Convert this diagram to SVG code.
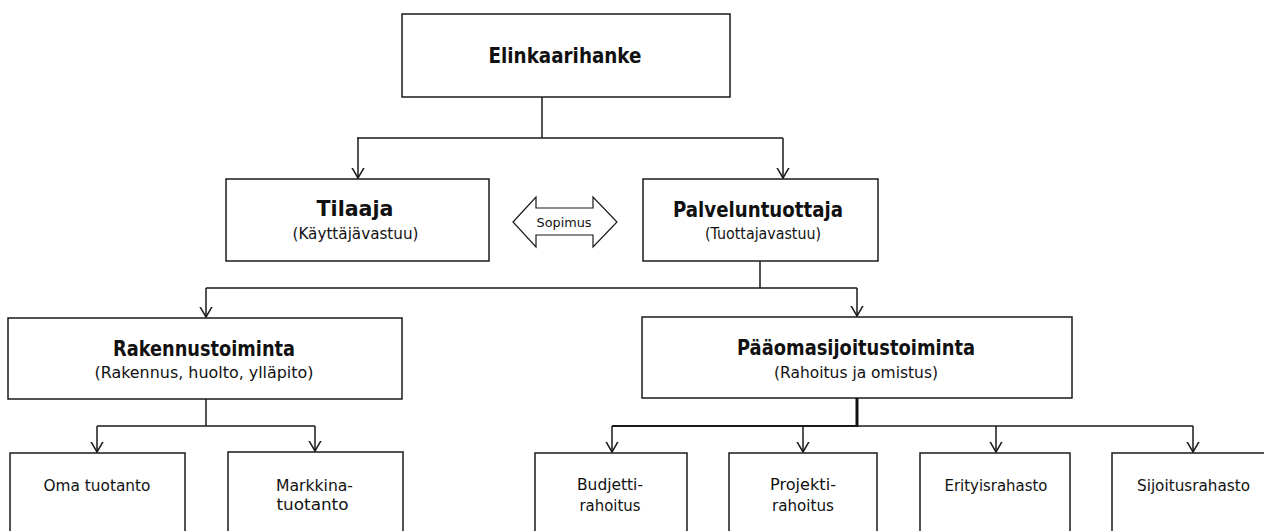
<svg xmlns="http://www.w3.org/2000/svg" width="1264" height="531" viewBox="0 0 1264 531">
  <style>
    .box { fill: #ffffff; stroke: #1a1a1a; stroke-width: 1.5; }
    .wire { fill: none; stroke: #1a1a1a; stroke-width: 1.5; }
    .thick { fill: none; stroke: #111111; stroke-width: 3; }
    .title { font-family: "DejaVu Sans", Verdana, sans-serif; font-weight: bold; font-size: 21px; fill: #111111; text-anchor: middle; }
    .sub { font-family: "DejaVu Sans", Verdana, sans-serif; font-size: 15.5px; fill: #111111; text-anchor: middle; }
    .leaf { font-family: "DejaVu Sans", Verdana, sans-serif; font-size: 15.5px; fill: #111111; text-anchor: middle; }
    .small { font-family: "DejaVu Sans", Verdana, sans-serif; font-size: 13px; fill: #111111; text-anchor: middle; }
  </style>
  <defs>
    <marker id="vee" markerUnits="userSpaceOnUse" markerWidth="20" markerHeight="20" viewBox="-10 -10 20 20" refX="0" refY="0" orient="auto">
      <path d="M-12,-7 L0,0 L-12,7" fill="none" stroke="#1a1a1a" stroke-width="1.5"/>
    </marker>
  </defs>

  <rect width="1264" height="531" fill="#ffffff"/>

  <!-- connectors -->
  <g id="connectors">
    <!-- top node to the two parties -->
    <path class="wire" d="M542,97 V138"/>
    <path class="wire" d="M357,138 H783"/>
    <path class="wire" d="M358,138 V178" marker-end="url(#vee)"/>
    <path class="wire" d="M783,138 V178" marker-end="url(#vee)"/>
    <!-- service provider to its two branches -->
    <path class="wire" d="M760,261 V288"/>
    <path class="wire" d="M206,288 H857"/>
    <path class="wire" d="M206,288 V317" marker-end="url(#vee)"/>
    <path class="wire" d="M857,288 V316" marker-end="url(#vee)"/>
    <!-- construction branch -->
    <path class="wire" d="M206,399 V426"/>
    <path class="wire" d="M97,426 H315"/>
    <path class="wire" d="M97,426 V452" marker-end="url(#vee)"/>
    <path class="wire" d="M315,426 V451" marker-end="url(#vee)"/>
    <!-- capital investment branch -->
    <path class="thick" d="M857,398 V427"/>
    <path class="wire" d="M612,426 H857" style="stroke-width:1.8"/>
    <path class="wire" d="M857,426 H1193"/>
    <path class="wire" d="M612,426 V452" marker-end="url(#vee)"/>
    <path class="wire" d="M803,426 V452" marker-end="url(#vee)"/>
    <path class="wire" d="M996,426 V452" marker-end="url(#vee)"/>
    <path class="wire" d="M1193,426 V452" marker-end="url(#vee)"/>
  </g>

  <g id="elinkaarihanke">
    <rect class="box" x="402" y="14" width="328" height="83"/>
    <text class="title" x="565" y="63" textLength="153" lengthAdjust="spacingAndGlyphs">Elinkaarihanke</text>
  </g>

  <g id="tilaaja">
    <rect class="box" x="226" y="179" width="263" height="82"/>
    <text class="title" x="355" y="216" textLength="77" lengthAdjust="spacingAndGlyphs">Tilaaja</text>
    <text class="sub" x="355.5" y="239" textLength="126" lengthAdjust="spacingAndGlyphs">(Käyttäjävastuu)</text>
  </g>

  <g id="sopimus">
    <polygon points="513,222 536,197 536,208 593,208 593,197 617,222 593,247 593,235 536,235 536,247" fill="#ffffff" stroke="#1a1a1a" stroke-width="1.2"/>
    <text class="small" x="564" y="227" textLength="55" lengthAdjust="spacingAndGlyphs">Sopimus</text>
  </g>

  <g id="palveluntuottaja">
    <rect class="box" x="643" y="179" width="235" height="82"/>
    <text class="title" x="758" y="217" textLength="170" lengthAdjust="spacingAndGlyphs">Palveluntuottaja</text>
    <text class="sub" x="763" y="239" textLength="116" lengthAdjust="spacingAndGlyphs">(Tuottajavastuu)</text>
  </g>

  <g id="rakennustoiminta">
    <rect class="box" x="8" y="318" width="394" height="81"/>
    <text class="title" x="204" y="356" textLength="182" lengthAdjust="spacingAndGlyphs">Rakennustoiminta</text>
    <text class="sub" x="204" y="378" textLength="219" lengthAdjust="spacingAndGlyphs">(Rakennus, huolto, ylläpito)</text>
  </g>

  <g id="paaomasijoitustoiminta">
    <rect class="box" x="642" y="317" width="430" height="81"/>
    <text class="title" x="856" y="355" textLength="238" lengthAdjust="spacingAndGlyphs">Pääomasijoitustoiminta</text>
    <text class="sub" x="856" y="378" textLength="164" lengthAdjust="spacingAndGlyphs">(Rahoitus ja omistus)</text>
  </g>

  <g id="oma-tuotanto">
    <rect class="box" x="10" y="453" width="175" height="100"/>
    <text class="leaf" x="97" y="491" textLength="107" lengthAdjust="spacingAndGlyphs">Oma tuotanto</text>
  </g>

  <g id="markkinatuotanto">
    <rect class="box" x="228" y="452" width="175" height="100"/>
    <text class="leaf" x="314.5" y="491" textLength="77" lengthAdjust="spacingAndGlyphs">Markkina-</text>
    <text class="leaf" x="312.5" y="510" textLength="72" lengthAdjust="spacingAndGlyphs">tuotanto</text>
  </g>

  <g id="budjettirahoitus">
    <rect class="box" x="535" y="453" width="152" height="100"/>
    <text class="leaf" x="610" y="490" textLength="66" lengthAdjust="spacingAndGlyphs">Budjetti-</text>
    <text class="leaf" x="610" y="511" textLength="61" lengthAdjust="spacingAndGlyphs">rahoitus</text>
  </g>

  <g id="projektirahoitus">
    <rect class="box" x="729" y="453" width="148" height="100"/>
    <text class="leaf" x="803" y="490" textLength="66" lengthAdjust="spacingAndGlyphs">Projekti-</text>
    <text class="leaf" x="803" y="511" textLength="62" lengthAdjust="spacingAndGlyphs">rahoitus</text>
  </g>

  <g id="erityisrahasto">
    <rect class="box" x="920" y="453" width="150" height="100"/>
    <text class="leaf" x="996" y="491" textLength="103" lengthAdjust="spacingAndGlyphs">Erityisrahasto</text>
  </g>

  <g id="sijoitusrahasto">
    <rect class="box" x="1112" y="453" width="163" height="100"/>
    <text class="leaf" x="1193.5" y="491" textLength="113" lengthAdjust="spacingAndGlyphs">Sijoitusrahasto</text>
  </g>
</svg>
